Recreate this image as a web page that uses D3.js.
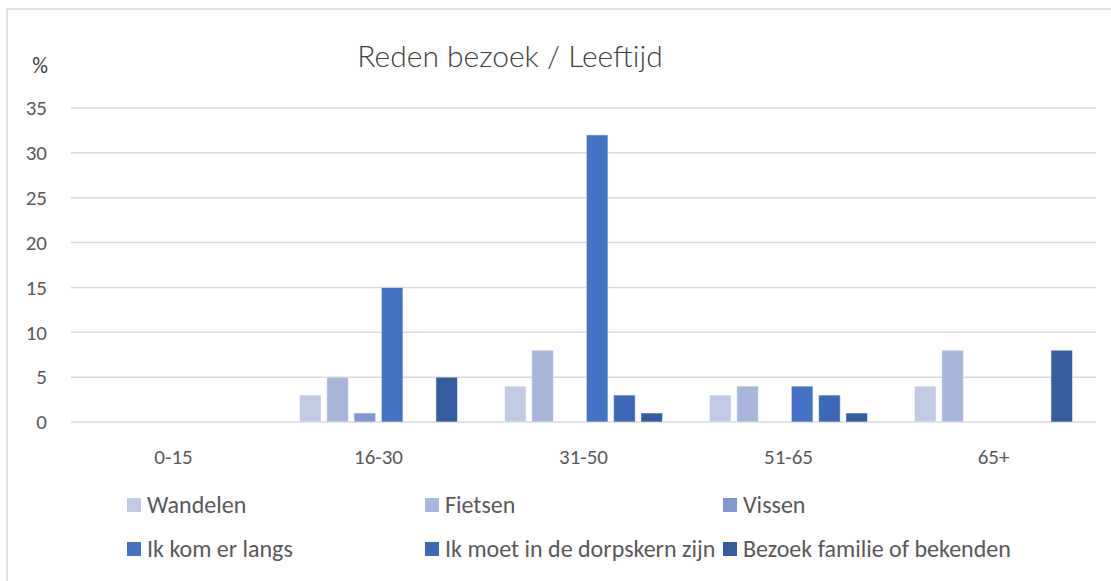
<!DOCTYPE html>
<html>
<head>
<meta charset="utf-8">
<script src="https://cdn.jsdelivr.net/npm/d3@7"></script>
<style>
  body { margin: 0; background: #fff; }
  svg { display: block; font-family: Carlito, Calibri, "Open Sans", sans-serif; }
</style>
</head>
<body>
<svg id="chart" width="1111" height="581"></svg>
<script>
// age groups on the x axis
const categories = ["0-15", "16-30", "31-50", "51-65", "65+"];
// reasons for the visit (series)
const series = ["Wandelen", "Fietsen", "Vissen", "Ik kom er langs", "Ik moet in de dorpskern zijn", "Bezoek familie of bekenden"];
const wandelen = [0, 3, 4, 3, 4];
const fietsen = [0, 5, 8, 4, 8];
const vissen = [0, 1, 0, 0, 0];
const langs = [0, 15, 32, 4, 0];
const dorpskern = [0, 0, 3, 3, 0];
const familie = [0, 5, 1, 1, 8];
const yTicks = [0, 5, 10, 15, 20, 25, 30, 35];

const values = [wandelen, fietsen, vissen, langs, dorpskern, familie];
const colors = ["#c1cbe5", "#a8b6db", "#8097d0", "#4472c4", "#3c68b6", "#355ea1"];

const svg = d3.select("#chart");

// chart frame (right/bottom edge fall outside the picture)
svg.append("rect")
    .attr("x", 7).attr("y", 9)
    .attr("width", 1120).attr("height", 590)
    .attr("fill", "none")
    .attr("stroke", "#d9d9d9")
    .attr("stroke-width", 1.5);

let x0 = d3.scaleBand().domain(categories).range([71, 1096]);
let x1 = d3.scaleBand().domain(series).range([23.5, 181.5]).paddingInner(0.21);
let y = d3.scaleLinear().domain([0, 35]).range([422, 108]);

// gridlines
svg.append("g")
    .selectAll("line")
    .data(yTicks)
    .join("line")
    .attr("x1", 71).attr("x2", 1096)
    .attr("y1", d => y(d)).attr("y2", d => y(d))
    .attr("stroke", "#d9d9d9")
    .attr("stroke-width", 1.5);

// y tick labels
svg.append("g")
    .selectAll("text")
    .data(yTicks)
    .join("text")
    .attr("x", 47)
    .attr("y", d => y(d))
    .attr("dy", "0.35em")
    .attr("text-anchor", "end")
    .attr("font-size", "21px")
    .attr("fill", "#595959")
    .text(d => d);

// x labels
svg.append("g")
    .selectAll("text")
    .data(categories)
    .join("text")
    .attr("x", d => x0(d) + x0.bandwidth() / 2)
    .attr("y", 457)
    .attr("dy", "0.35em")
    .attr("text-anchor", "middle")
    .attr("font-size", "21px")
    .attr("fill", "#595959")
    .text(d => d);

// bars
const groups = svg.append("g")
    .selectAll("g")
    .data(categories)
    .join("g")
    .attr("transform", d => `translate(${x0(d)},0)`);

groups.selectAll("rect")
    .data((d, i) => series.map((s, k) => ({ s: s, k: k, v: values[k][i] })).filter(e => e.v > 0))
    .join("rect")
    .attr("x", d => x1(d.s))
    .attr("width", x1.bandwidth())
    .attr("y", d => y(d.v))
    .attr("height", d => y(0) - y(d.v))
    .attr("fill", d => colors[d.k])
    .attr("stroke", "#ffffff")
    .attr("stroke-opacity", 0.5)
    .attr("stroke-width", 1);

// title and unit
svg.append("text")
    .attr("x", 510).attr("y", 56)
    .attr("dy", "0.35em")
    .attr("text-anchor", "middle")
    .attr("font-family", "Lato, Carlito, sans-serif")
    .attr("font-size", "30px")
    .attr("font-weight", 300)
    .attr("fill", "#404040")
    .text("Reden bezoek / Leeftijd");

svg.append("text")
    .attr("x", 40).attr("y", 65)
    .attr("dy", "0.35em")
    .attr("text-anchor", "middle")
    .attr("font-size", "22px")
    .attr("fill", "#404040")
    .text("%");

// legend, 3 columns x 2 rows
const legend = svg.append("g")
    .selectAll("g")
    .data(series)
    .join("g")
    .attr("transform", (d, i) => `translate(${127 + (i % 3) * 298},${i < 3 ? 505 : 549})`);

legend.append("rect")
    .attr("x", 0).attr("y", -7)
    .attr("width", 14).attr("height", 14)
    .attr("fill", (d, i) => colors[i]);

legend.append("text")
    .attr("x", 20)
    .attr("dy", "0.35em")
    .attr("font-size", "24px")
    .attr("fill", "#595959")
    .text(d => d);
</script>
</body>
</html>
